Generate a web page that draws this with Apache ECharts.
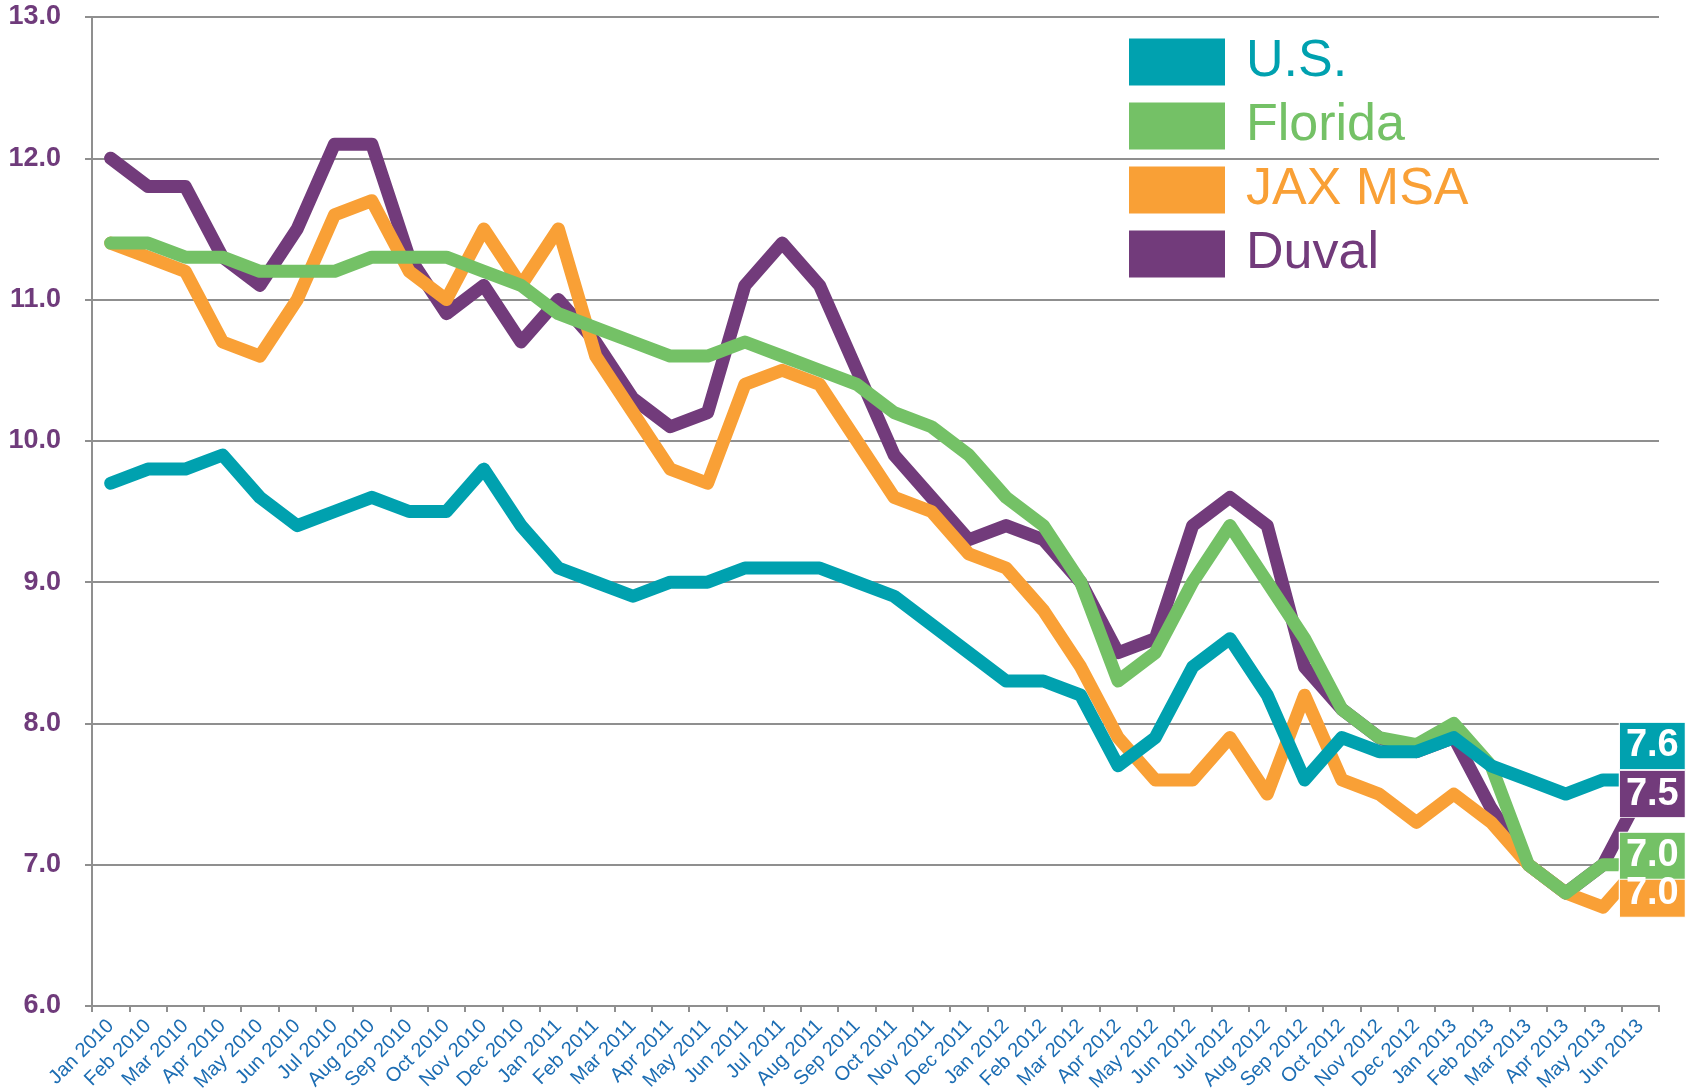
<!DOCTYPE html>
<html>
<head>
<meta charset="utf-8">
<title>Unemployment rate</title>
<script src="https://cdn.jsdelivr.net/npm/echarts@6/dist/echarts.min.js"></script>
<style>
  html, body { margin: 0; padding: 0; background: #fff; }
  #chart { width: 1687px; height: 1089px; }
</style>
</head>
<body>
<div id="chart"></div>
<script>
// 月份
const months = [
  'Jan 2010', 'Feb 2010', 'Mar 2010', 'Apr 2010', 'May 2010', 'Jun 2010',
  'Jul 2010', 'Aug 2010', 'Sep 2010', 'Oct 2010', 'Nov 2010', 'Dec 2010',
  'Jan 2011', 'Feb 2011', 'Mar 2011', 'Apr 2011', 'May 2011', 'Jun 2011',
  'Jul 2011', 'Aug 2011', 'Sep 2011', 'Oct 2011', 'Nov 2011', 'Dec 2011',
  'Jan 2012', 'Feb 2012', 'Mar 2012', 'Apr 2012', 'May 2012', 'Jun 2012',
  'Jul 2012', 'Aug 2012', 'Sep 2012', 'Oct 2012', 'Nov 2012', 'Dec 2012',
  'Jan 2013', 'Feb 2013', 'Mar 2013', 'Apr 2013', 'May 2013', 'Jun 2013'
]

const usValues = [9.7, 9.8, 9.8, 9.9, 9.6, 9.4, 9.5, 9.6, 9.5, 9.5, 9.8, 9.4,
  9.1, 9.0, 8.9, 9.0, 9.0, 9.1, 9.1, 9.1, 9.0, 8.9, 8.7, 8.5,
  8.3, 8.3, 8.2, 7.7, 7.9, 8.4, 8.6, 8.2, 7.6, 7.9, 7.8, 7.8,
  7.9, 7.7, 7.6, 7.5, 7.6, 7.6]

const floridaValues = [11.4, 11.4, 11.3, 11.3, 11.2, 11.2, 11.2, 11.3, 11.3, 11.3, 11.2, 11.1,
  10.9, 10.8, 10.7, 10.6, 10.6, 10.7, 10.6, 10.5, 10.4, 10.2, 10.1, 9.9,
  9.6, 9.4, 9.0, 8.3, 8.5, 9.0, 9.4, 9.0, 8.6, 8.1, 7.9, 7.85,
  8.0, 7.7, 7.0, 6.8, 7.0, 7.0]

const jaxValues = [11.4, 11.3, 11.2, 10.7, 10.6, 11.0, 11.6, 11.7, 11.2, 11.0, 11.5, 11.1,
  11.5, 10.6, 10.2, 9.8, 9.7, 10.4, 10.5, 10.4, 10.0, 9.6, 9.5, 9.2,
  9.1, 8.8, 8.4, 7.9, 7.6, 7.6, 7.9, 7.5, 8.2, 7.6, 7.5, 7.3,
  7.5, 7.3, 7.0, 6.8, 6.7, 7.0]

const duvalValues = [12.0, 11.8, 11.8, 11.3, 11.1, 11.5, 12.1, 12.1, 11.3, 10.9, 11.1, 10.7,
  11.0, 10.7, 10.3, 10.1, 10.2, 11.1, 11.4, 11.1, 10.5, 9.9, 9.6, 9.3,
  9.4, 9.3, 9.0, 8.5, 8.6, 9.4, 9.6, 9.4, 8.4, 8.1, 7.9, 7.8,
  7.9, 7.4, 7.0, 6.8, 7.0, 7.5]

// y 轴刻度
const yTicks = [6, 7, 8, 9, 10, 11, 12, 13]

const font = '"Liberation Sans", Arial, sans-serif'
const gray = '#8f8f8f'

// 从底到顶的绘制顺序: Duval, JAX MSA, Florida, U.S.
const lines = [
  { name: 'Duval', color: '#723b7b', data: duvalValues, labelDy: 0 },
  { name: 'JAX MSA', color: '#f9a036', data: jaxValues, labelDy: 29 },
  { name: 'Florida', color: '#74c166', data: floridaValues, labelDy: -9 },
  { name: 'U.S.', color: '#00a1af', data: usValues, labelDy: -34 }
]

const legendOrder = ['U.S.', 'Florida', 'JAX MSA', 'Duval']

const chart = echarts.init(document.getElementById('chart'))

const series = lines.map((s) => {
  const last = s.data.length - 1
  return {
    name: s.name,
    type: 'line',
    data: s.data,
    color: s.color,
    showSymbol: false,
    symbol: 'none',
    lineStyle: { width: 13, color: s.color, cap: 'round', join: 'round' },
    // 末端的数值方块
    markPoint: {
      symbol: 'rect',
      symbolSize: [66, 47],
      symbolOffset: [12, s.labelDy],
      itemStyle: { color: s.color, borderColor: '#fff', borderWidth: 1 },
      label: {
        show: true,
        position: 'inside',
        color: '#fff',
        fontFamily: font,
        fontWeight: 'bold',
        fontSize: 38,
        formatter: (p) => Number(p.value).toFixed(1)
      },
      data: [{ coord: [months[last], s.data[last]], value: s.data[last] }]
    }
  }
})

const option = {
  animation: false,
  backgroundColor: '#fff',
  // 固定绘图区, 不让标签挤压网格
  grid: { left: 92, right: 28, top: 17, bottom: 83, outerBoundsMode: 'none', containLabel: false },
  legend: {
    orient: 'vertical',
    left: 1129,
    top: 36,
    padding: 0,
    itemWidth: 96,
    itemHeight: 47,
    itemGap: 12,
    selectedMode: false,
    icon: 'rect',
    itemStyle: { borderWidth: 0 },
    textStyle: { fontFamily: font, fontSize: 52, padding: [0, 0, 0, 16] },
    data: legendOrder.map((name) => {
      const s = lines.find((l) => l.name === name)
      return { name: name, icon: 'rect', itemStyle: { color: s.color }, textStyle: { color: s.color } }
    })
  },
  xAxis: {
    type: 'category',
    data: months,
    boundaryGap: true,
    axisLine: { lineStyle: { color: gray, width: 2 } },
    axisTick: { show: true, interval: 0, length: 6, lineStyle: { color: gray, width: 2 } },
    axisLabel: {
      interval: 0,
      rotate: 45,
      margin: 17,
      color: '#1c6db3',
      fontFamily: font,
      fontSize: 20
    },
    splitLine: { show: false }
  },
  yAxis: {
    type: 'value',
    min: yTicks[0],
    max: yTicks[yTicks.length - 1],
    interval: 1,
    axisLine: { show: true, lineStyle: { color: gray, width: 2 } },
    axisTick: { show: true, length: 7, lineStyle: { color: gray, width: 2 } },
    axisLabel: {
      margin: 31,
      color: '#6f3b7b',
      fontFamily: font,
      fontWeight: 'bold',
      fontSize: 27,
      formatter: (v) => v.toFixed(1)
    },
    splitLine: { lineStyle: { color: gray, width: 2 } }
  },
  series: series
}

chart.setOption(option)
</script>
</body>
</html>
